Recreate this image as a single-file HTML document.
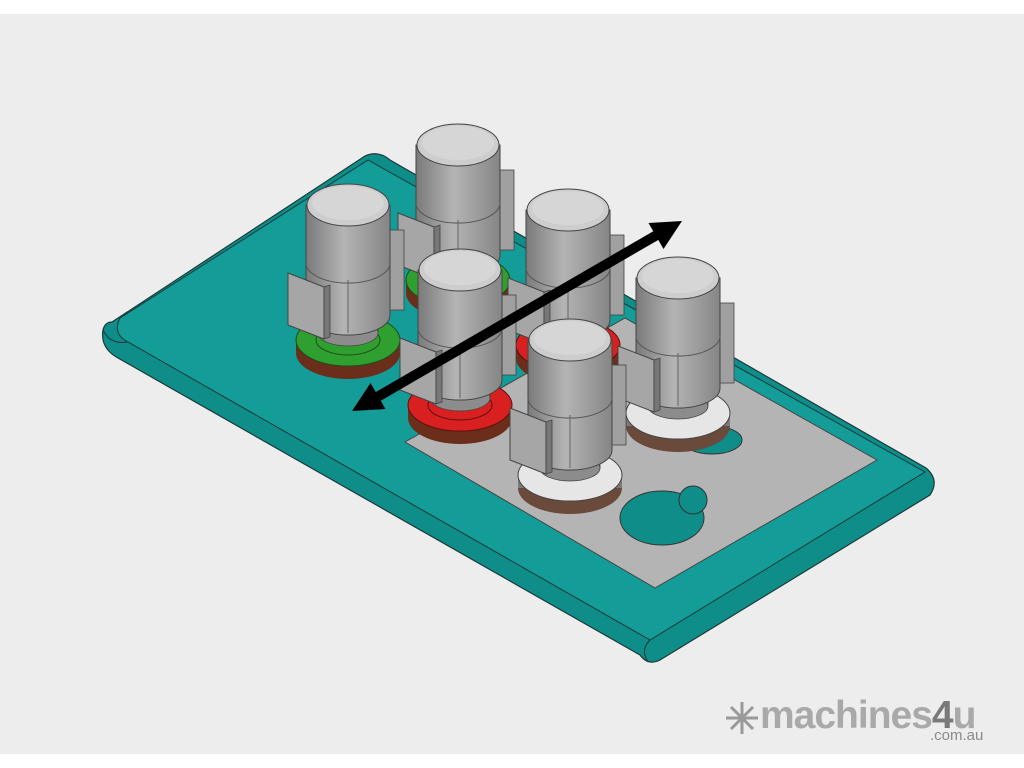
<!DOCTYPE html>
<html><head><meta charset="utf-8"><style>
html,body{margin:0;padding:0;background:#fff;}
body{width:1024px;height:768px;overflow:hidden;position:relative;font-family:"Liberation Sans",sans-serif;}
.bg{position:absolute;left:0;top:14px;width:1024px;height:740px;background:#ededed;}
svg{position:absolute;left:0;top:0;}
.logo{position:absolute;left:760px;top:694px;font-size:39px;font-weight:bold;color:#a9a9a9;letter-spacing:-1px;}
.logo b{color:#7a7a7a;}
.sub{position:absolute;left:930px;top:727px;font-size:15px;color:#8a8a8a;}
</style></head><body>
<div class="bg"></div>
<svg width="1024" height="768" viewBox="0 0 1024 768">
<defs>
<linearGradient id="hg" x1="0" x2="1" y1="0" y2="0">
<stop offset="0" stop-color="#7a7a7a"/><stop offset="0.45" stop-color="#b4b4b4"/><stop offset="1" stop-color="#858585"/>
</linearGradient>
<g id="motor">
<rect x="-30" y="95" width="60" height="33" fill="#8c8c8c" stroke="#444" stroke-width="0.8"/>
<ellipse cx="0" cy="128" rx="30" ry="13" fill="#8c8c8c" stroke="#444" stroke-width="0.8"/>
<rect x="40" y="25" width="16" height="80" fill="#a0a0a0" stroke="#444" stroke-width="0.8"/>
<path d="M-42 0 L-42 110 A42 20 0 0 0 42 110 L42 0 Z" fill="url(#hg)" stroke="#444" stroke-width="1"/>
<path d="M-42 58 A42 20 0 0 0 42 58" fill="none" stroke="#555" stroke-width="1"/>
<line x1="0" y1="75" x2="0" y2="128" stroke="#666" stroke-width="1"/>
<polygon points="-60,68 -24,82 -24,134 -60,120" fill="#a6a6a6" stroke="#444" stroke-width="1"/>
<polygon points="-24,82 -18,80 -18,132 -24,134" fill="#777" stroke="#444" stroke-width="0.8"/>
<ellipse cx="0" cy="0" rx="41" ry="21" fill="#cdcdcd" stroke="#444" stroke-width="1"/>
<ellipse cx="0" cy="-2" rx="36" ry="17" fill="#d6d6d6"/>
</g>
</defs>
<path d="M112 322 L365 156 Q378 150 390 160 L926 468 Q940 480 930 495 L660 660 Q648 666 640 655 L118 358 Q100 348 103 330 Q105 322 112 322 Z" fill="#0f8d89" stroke="#1a3a3a" stroke-width="1.2"/>
<path d="M120 318 L368 160 L925 472 L650 640 L128 342 Q112 334 120 318 Z" fill="#149d98" stroke="#1a3a3a" stroke-width="1"/>
<path d="M103 330 Q110 345 128 342 M650 640 Q640 650 648 662" fill="none" stroke="#1a3a3a" stroke-width="1"/>
<polygon points="405,442 625,318 877,460 655,588" fill="#b4b4b4" stroke="#444" stroke-width="1"/>
<ellipse cx="662" cy="518" rx="42" ry="27" fill="#0f8d89" stroke="#333"/>
<circle cx="693" cy="500" r="14" fill="#0f8d89" stroke="#333"/>
<ellipse cx="712" cy="440" rx="30" ry="14" fill="#0f8d89" stroke="#333"/>
<g transform="translate(458,145)"><ellipse cx="0" cy="148" rx="52" ry="26" fill="#6a2e1a"/><rect x="-52" y="135" width="104" height="13" fill="#6a2e1a"/><ellipse cx="0" cy="135" rx="52" ry="26" fill="#2fa02f" stroke="#1b4d1b"/><use href="#motor"/></g>
<g transform="translate(568,210)"><ellipse cx="0" cy="148" rx="52" ry="26" fill="#6a2e1a"/><rect x="-52" y="135" width="104" height="13" fill="#6a2e1a"/><ellipse cx="0" cy="135" rx="52" ry="26" fill="#d92020" stroke="#5a1010"/><use href="#motor"/></g>
<g transform="translate(348,205)"><ellipse cx="0" cy="148" rx="52" ry="26" fill="#6a2e1a"/><rect x="-52" y="135" width="104" height="13" fill="#6a2e1a"/><ellipse cx="0" cy="135" rx="52" ry="26" fill="#2fa02f" stroke="#1b4d1b"/><ellipse cx="0" cy="135" rx="32" ry="15" fill="none" stroke="#1b4d1b"/><use href="#motor"/></g>
<g transform="translate(678,278)"><ellipse cx="0" cy="148" rx="52" ry="26" fill="#6a4a3a"/><rect x="-52" y="135" width="104" height="13" fill="#7a7a7a"/><ellipse cx="0" cy="135" rx="52" ry="26" fill="#e6e6e6" stroke="#444"/><use href="#motor"/></g>
<g transform="translate(460,270)"><ellipse cx="0" cy="148" rx="52" ry="26" fill="#6a2e1a"/><rect x="-52" y="135" width="104" height="13" fill="#6a2e1a"/><ellipse cx="0" cy="135" rx="52" ry="26" fill="#d92020" stroke="#5a1010"/><ellipse cx="0" cy="135" rx="32" ry="15" fill="none" stroke="#5a1010"/><use href="#motor"/></g>
<g transform="translate(570,340)"><ellipse cx="0" cy="148" rx="52" ry="26" fill="#6a4a3a"/><rect x="-52" y="135" width="104" height="13" fill="#7a7a7a"/><ellipse cx="0" cy="135" rx="52" ry="26" fill="#e6e6e6" stroke="#444"/><use href="#motor"/></g>
<line x1="372" y1="400" x2="662" y2="232" stroke="#000" stroke-width="10"/>
<polygon points="682,221 663.5,249 648.5,223" fill="#000"/>
<polygon points="352,411 385.5,409 370.5,383" fill="#000"/>
<g transform="translate(742,718)" stroke="#999" stroke-width="3">
<line x1="-16" y1="0" x2="16" y2="0"/><line x1="0" y1="-16" x2="0" y2="16"/><line x1="-11" y1="-11" x2="11" y2="11"/><line x1="-11" y1="11" x2="11" y2="-11"/>
</g>
</svg>
<div class="logo">machines<b>4</b>u</div>
<div class="sub">.com.au</div>
</body></html>
